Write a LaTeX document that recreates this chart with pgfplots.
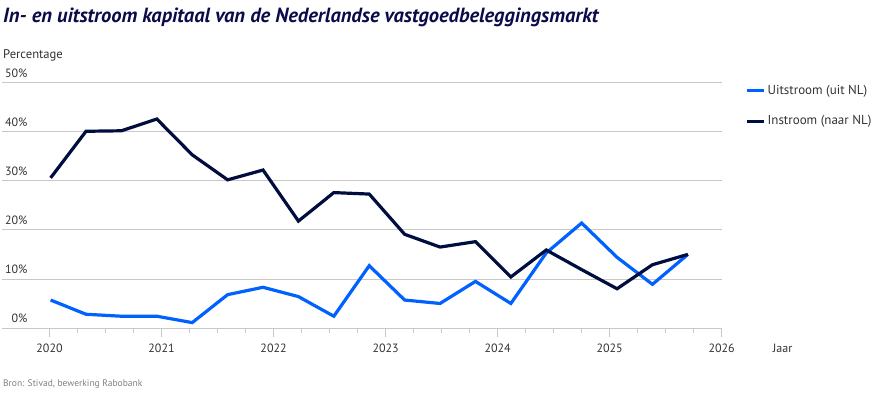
\documentclass[border=0pt]{standalone}
\usepackage{pgfplots}
\pgfplotsset{compat=1.18}
\usepackage{pgfplotstable}
\usepackage{fontspec}
\setmainfont{PT Sans}
\definecolor{rblue}{HTML}{0061FF}
\definecolor{rnavy}{HTML}{000D3F}
\definecolor{tnavy}{HTML}{0B0B4A}
\definecolor{gridc}{HTML}{C8C8C8}
\definecolor{txt}{HTML}{333333}

\pgfplotstableread{
x dark blue
2020.01 30.6 5.7
2020.326 40.1 2.8
2020.642 40.2 2.4
2020.958 42.6 2.4
2021.274 35.3 1.1
2021.59 30.2 6.8
2021.906 32.2 8.3
2022.222 21.8 6.4
2022.538 27.6 2.4
2022.854 27.3 12.7
2023.17 19.1 5.7
2023.486 16.5 5.0
2023.802 17.6 9.5
2024.118 10.4 5.0
2024.434 15.9 15.3
2024.75 11.9 21.4
2025.066 8.0 14.4
2025.382 12.9 8.9
2025.698 15.0 15.0
}\datatable

\begin{document}
\begin{tikzpicture}[x=1pt,y=1pt]
\path[use as bounding box] (0,0) rectangle (875,400);
\node[anchor=base west, inner sep=0, text=tnavy, font=\fontsize{20.5}{22}\selectfont\bfseries\itshape] at (3,377.3) {In- en uitstroom kapitaal van de Nederlandse vastgoedbeleggingsmarkt};
\node[anchor=base west, inner sep=0, text=txt, font=\fontsize{12.6}{14}\selectfont] at (3,341.7) {Percentage};
\node[anchor=base west, inner sep=0, text=txt, font=\fontsize{12}{14}\selectfont] at (772.7,47.3) {Jaar};
\node[anchor=base west, inner sep=0, text=black!50, font=\fontsize{9.5}{11}\selectfont] at (3,14) {Bron: Stivad, bewerking Rabobank};
\begin{axis}[
  at={(2pt,72pt)}, anchor=south west,
  scale only axis, width=719.7pt, height=245.3pt,
  xmin=2019.576, xmax=2026, ymin=0, ymax=50,
  axis x line*=bottom, axis y line*=left,
  x axis line style={-, draw=gridc, line width=0.8pt},
  y axis line style={draw=none},
  xtick={2020,2021,2022,2023,2024,2025,2026},
  minor x tick num=3,
  xticklabels={2020,2021,2022,2023,2024,2025,2026},
  tick align=outside,
  major tick length=9pt, minor tick length=4.5pt,
  x tick style={draw=gridc, line width=0.6pt},
  minor x tick style={draw=gridc, line width=0.6pt},
  ytick={0,10,20,30,40,50},
  y tick style={draw=none},
  ymajorgrids, grid style={draw=gridc, line width=0.8pt},
  yticklabel={\pgfmathprintnumber{\tick}\%},
  /pgf/number format/assume math mode=true,
  tick label style={font=\fontsize{12}{14}\selectfont, text=txt},
  yticklabel style={anchor=base east, inner sep=0pt, xshift=34.7pt, yshift=5.4pt},
  xticklabel style={anchor=base, inner sep=0pt, yshift=-15pt},
  legend style={at={(1,1)}, anchor=north west, draw=none, fill=none,
    font=\fontsize{13}{15}\selectfont, text=txt, row sep=16pt,
    xshift=23.7pt, yshift=0pt, inner sep=0pt},
  legend cell align=left,
  legend image code/.code={\draw[#1, line width=3pt] (-3.7pt,0pt) -- (13.3pt,0pt);},
  clip=false,
]
\addplot[rblue, line width=3.2pt, line join=miter] table[x=x, y=blue] {\datatable};
\addlegendentry{Uitstroom (uit NL)}
\addplot[rnavy, line width=3.2pt, line join=miter] table[x=x, y=dark] {\datatable};
\addlegendentry{Instroom (naar NL)}
\end{axis}
\end{tikzpicture}
\end{document}
